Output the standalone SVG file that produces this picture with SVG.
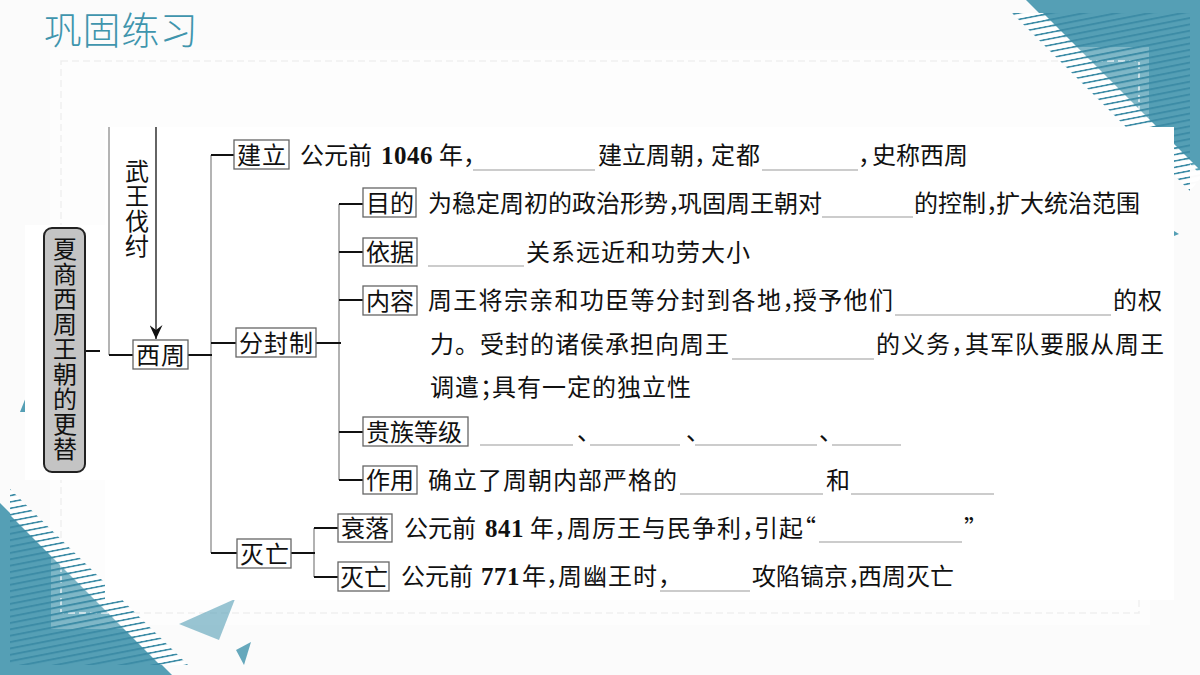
<svg xmlns="http://www.w3.org/2000/svg" width="1200" height="675" viewBox="0 0 1200 675">
<style>
.t{font-family:"Noto Sans CJK SC","Noto Sans",sans-serif;font-size:24px;fill:#111;font-feature-settings:"halt"}
.s{letter-spacing:1px}
.w{letter-spacing:1.3px}
.f{font-feature-settings:normal}
.n{font-family:"Liberation Serif",serif;font-weight:700;font-size:25px;letter-spacing:0.5px}
.box{fill:#fff;stroke:#666;stroke-width:1.3}
.k{stroke:#111;stroke-width:2;fill:none}
.g{stroke:#b4b4b4;stroke-width:2;fill:none}
.g2{stroke:#999;stroke-width:1.5;fill:none}
.b{stroke:#999;stroke-width:1.2;fill:none}
.tri{fill:#559fb5}
.v{writing-mode:vertical-rl;text-orientation:upright;font-feature-settings:normal;letter-spacing:1px}
</style>
<defs>
<pattern id="st" width="20" height="6.25" patternUnits="userSpaceOnUse" patternTransform="rotate(-11)"><rect width="20" height="2" fill="#3d8ca6"/></pattern>
<pattern id="wh" width="20" height="6.25" patternUnits="userSpaceOnUse" patternTransform="rotate(-11)"><rect y="2" width="20" height="4.25" fill="#fff"/></pattern>
<marker id="ah" markerUnits="userSpaceOnUse" markerWidth="14" markerHeight="13" refX="14" refY="6.5" orient="auto" viewBox="0 0 14 13"><path d="M0 0L14 6.5L0 13L5 6.5Z" fill="#111"/></marker>
</defs>
<rect width="1200" height="675" fill="#fbfbfb"/>
<rect x="50" y="50" width="1100" height="575" fill="#fdfdfd"/>
<rect x="61" y="61" width="1078" height="552" fill="none" stroke="#efefef" stroke-width="1.5" stroke-dasharray="7 4"/>

<g id="decor-top-right">
<polygon class="tri" points="1026,0 1200,0 1200,174"/>
<polygon points="1073,47 1149,47 1149,127" fill="#fff" opacity=".25"/>
<path d="M1085,61H1139V115" fill="none" stroke="#fff" stroke-opacity=".8" stroke-width="1.5" stroke-dasharray="7 4"/>
<polygon points="1012,13 1190,13 1190,191" fill="url(#st)"/>
<polygon points="1012,13 1043,13 1204,174 1190,191" fill="url(#wh)"/>
</g>
<g id="decor-bottom-left">
<polygon class="tri" points="0,503 172,675 0,675"/>
<polygon points="51,555 51,629 126,629" fill="#fff" opacity=".25"/>
<path d="M61,565V613H125" fill="none" stroke="#fff" stroke-opacity=".8" stroke-width="1.5" stroke-dasharray="7 4"/>
<polygon points="10,489 188,665 10,665" fill="url(#st)"/>
<polygon points="10,489 188,665 160,665 10,515" fill="url(#wh)"/>
<polygon points="179,624 235,599 219,640" fill="#559fb5" opacity=".6"/>
<polygon points="236,650 251,642 244,665" fill="#559fb5" opacity=".9"/>
</g>
<polygon points="1174,231 1179,234 1174,236" fill="#559fb5"/>
<polygon points="26,397 20,412 26,412" fill="#559fb5"/>

<rect id="panel" x="105" y="127" width="1069" height="473" fill="#fff"/>
<rect id="panel-left" x="25" y="225" width="80" height="255" fill="#fff"/>

<text id="title" x="44" y="44" font-family="'Noto Sans CJK SC',sans-serif" font-size="38" font-weight="300" letter-spacing=".6" fill="#3f95ad">巩固练习</text>

<g id="connectors">
<path class="g" d="M109,127V355"/>
<path class="g" d="M211,155V553"/>
<path class="g2" d="M339,204V480"/>
<path class="g2" d="M314,528V577"/>
<path class="k" d="M85,351H100M109,355H133M188,355H212M211,155H234M211,343H236M316,343H341M339,204H363M339,252H363M339,300H363M339,432H363M339,480H363M211,553H237M291,553H315M314,528H338M314,577H338"/>
<path d="M156,127V339" stroke="#111" stroke-width="1.3" fill="none" marker-end="url(#ah)"/>
</g>

<g id="root"><rect x="44" y="228" width="41" height="244" rx="8" fill="#c4c4c4" stroke="#222" stroke-width="2"/>
<text class="t v" x="65" y="237">夏商西周王朝的更替</text></g>
<g id="wuwang"><text class="t v" x="137" y="159">武王伐纣</text></g>
<g id="xizhou"><rect class="box" x="133" y="340" width="55" height="29"/><text class="t s" x="136" y="364">西周</text></g>

<g id="jianli"><rect class="box" x="234" y="140" width="55" height="29"/><text class="t s" x="237" y="164">建立</text></g>
<g id="fenfeng"><rect class="box" x="236" y="328" width="80" height="29"/><text class="t s" x="239" y="352">分封制</text></g>
<g id="miewang"><rect class="box" x="237" y="539" width="54" height="29"/><text class="t s" x="240" y="563">灭亡</text></g>
<g id="mudi"><rect class="box" x="363" y="188" width="53" height="29"/><text class="t" x="366" y="212">目的</text></g>
<g id="yiju"><rect class="box" x="363" y="238" width="54" height="28"/><text class="t" x="366" y="261">依据</text></g>
<g id="neirong"><rect class="box" x="363" y="286" width="54" height="29"/><text class="t" x="366" y="310">内容</text></g>
<g id="guizu"><rect class="box" x="363" y="417" width="105" height="29"/><text class="t" x="366" y="441">贵族等级</text></g>
<g id="zuoyong"><rect class="box" x="363" y="466" width="54" height="28"/><text class="t" x="366" y="489">作用</text></g>
<g id="shuailuo"><rect class="box" x="338" y="514" width="54" height="28"/><text class="t" x="341" y="537">衰落</text></g>
<g id="miewang2"><rect class="box" x="338" y="562" width="51" height="29"/><text class="t" x="340" y="586">灭亡</text></g>

<g id="blanks" class="b">
<path d="M473,170H595M762,170H858M822,217H913M428,266H524M895,315H1111M732,359H874M480,445H573M590,445H680M695,445H817M832,445H901M680,494H823M851,494H994M819,542H962M660,591H750"/>
</g>

<g id="content">
<text class="t" y="164"><tspan x="300">公元前</tspan><tspan class="n" x="381">1046</tspan><tspan x="439">年，</tspan><tspan x="598">建立周朝，</tspan><tspan class="s" x="711">定都</tspan><tspan x="858">，</tspan><tspan x="872">史称西周</tspan></text>
<text class="t" y="212"><tspan x="428">为稳定周初的政治形势，</tspan><tspan x="678">巩固周王朝对</tspan><tspan x="914">的控制，</tspan><tspan x="996">扩大统治范围</tspan></text>
<text class="t s" x="526" y="261">关系远近和功劳大小</text>
<text class="t" y="309"><tspan class="w" x="428">周王将宗亲和功臣等分封到各地，</tspan><tspan class="w" x="793">授予他们</tspan><tspan class="s" x="1113">的权</tspan></text>
<text class="t s" y="353"><tspan class="f" x="430">力。受封的诸侯承担向周王</tspan><tspan x="876">的义务，</tspan><tspan x="965">其军队要服从周王</tspan></text>
<text class="t s" y="396"><tspan x="430">调遣；</tspan><tspan x="492">具有一定的独立性</tspan></text>
<text class="t" y="440"><tspan class="f" x="577">、</tspan><tspan class="f" x="686">、</tspan><tspan class="f" x="819">、</tspan></text>
<text class="t s" y="489"><tspan x="428">确立了周朝内部严格的</tspan><tspan x="826">和</tspan></text>
<text class="t" y="537"><tspan x="404">公元前</tspan><tspan class="n" x="485">841</tspan><tspan x="530">年，</tspan><tspan class="s" x="567">周厉王与民争利，</tspan><tspan class="s" x="754">引起“</tspan><tspan x="964">”</tspan></text>
<text class="t" y="585"><tspan x="401">公元前</tspan><tspan class="n" x="481">771</tspan><tspan x="522">年，</tspan><tspan class="s" x="558">周幽王时，</tspan><tspan x="752">攻陷镐京，</tspan><tspan x="858">西周灭亡</tspan></text>
</g>
</svg>
